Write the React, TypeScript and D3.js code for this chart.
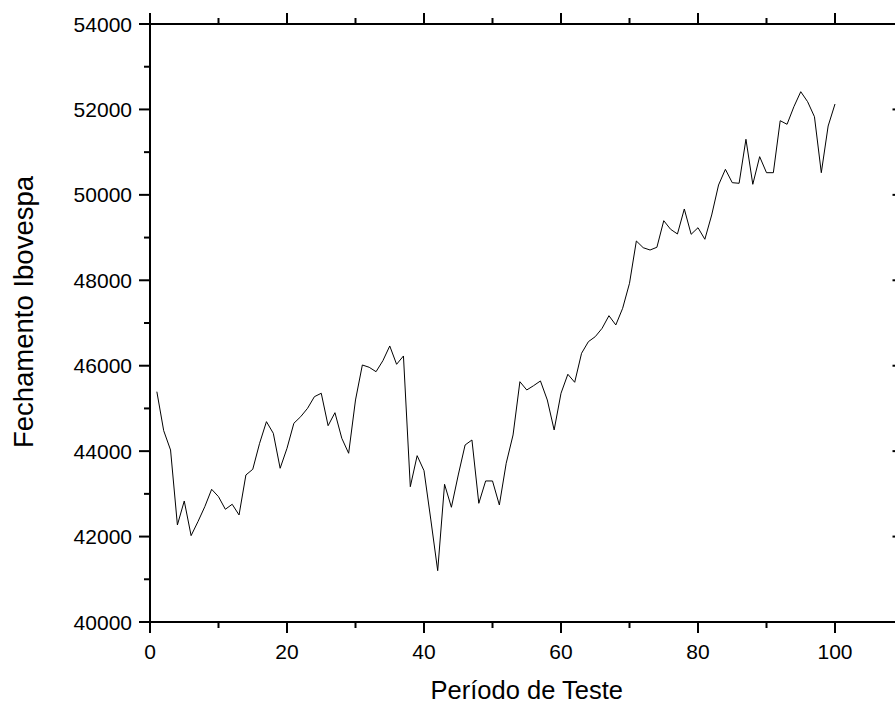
import React from "react";
import * as d3 from "d3";

const periods: number[] = d3.range(1, 101);
const closes: number[] = [
  45392, 44479, 44027, 42272, 42833, 42022, 42349, 42700, 43107, 42934,
  42639, 42756, 42506, 43442, 43575, 44184, 44690, 44418, 43599, 44067,
  44652, 44807, 45003, 45275, 45355, 44596, 44900, 44301, 43950, 45198,
  46017, 45963, 45860, 46118, 46462, 46033, 46228, 43168, 43894, 43543,
  42389, 41202, 43224, 42686, 43442, 44144, 44261, 42779, 43302, 43302,
  42740, 43716, 44379, 45626, 45432, 45533, 45643, 45198, 44496, 45355,
  45800, 45612, 46291, 46563, 46680, 46876, 47171, 46954, 47344, 47930,
  48920, 48763, 48709, 48773, 49395, 49194, 49084, 49669, 49077, 49231,
  48960, 49529, 50231, 50598, 50285, 50271, 51301, 50247, 50894, 50519,
  50519, 51736, 51652, 52064, 52415, 52181, 51830, 50519, 51612, 52127,
];
const xMajorTicks: number[] = [0, 20, 40, 60, 80, 100];
const xMinorTicks: number[] = [10, 30, 50, 70, 90];
const yMajorTicks: number[] = [40000, 42000, 44000, 46000, 48000, 50000, 52000, 54000];
const yMinorTicks: number[] = [41000, 43000, 45000, 47000, 49000, 51000, 53000];
const xTitle = "Período de Teste";
const yTitle = "Fechamento Ibovespa";

const W = 895;
const H = 705;
const L = 150;
const R = 903.5;
const T = 24;
const B = 622;
const MAJ = 11;
const MIN = 6;
const FONT = "'Liberation Sans', Arial, sans-serif";

export default function App() {
  const x = d3.scaleLinear().domain([0, 110]).range([L, R]);
  const y = d3.scaleLinear().domain([40000, 54000]).range([B, T]);
  const line = d3
    .line<number>()
    .x((_, i) => x(periods[i]))
    .y((d) => y(d));

  return (
    <svg
      width={W}
      height={H}
      style={{ position: "absolute", left: 0, top: 0, background: "#fff" }}
      fontFamily={FONT}
    >
      <rect x={0} y={0} width={W} height={H} fill="#fff" />
      <path d={line(closes) || ""} fill="none" stroke="#000" strokeWidth={1} />
      <g stroke="#000" strokeWidth={2} fill="none">
        <line x1={L} y1={B} x2={R} y2={B} />
        <line x1={L} y1={T} x2={R} y2={T} />
        <line x1={L} y1={T - 1} x2={L} y2={B + 1} />
        <line x1={R} y1={T - 1} x2={R} y2={B + 1} />
        {xMajorTicks.map((t) => (
          <g key={"xM" + t}>
            <line x1={x(t)} x2={x(t)} y1={B} y2={B + MAJ} />
            <line x1={x(t)} x2={x(t)} y1={T} y2={T - MAJ} />
          </g>
        ))}
        {xMinorTicks.map((t) => (
          <g key={"xm" + t}>
            <line x1={x(t)} x2={x(t)} y1={B} y2={B + MIN} />
            <line x1={x(t)} x2={x(t)} y1={T} y2={T - MIN} />
          </g>
        ))}
        {yMajorTicks.map((t) => (
          <g key={"yM" + t}>
            <line x1={L} x2={L - MAJ} y1={y(t)} y2={y(t)} />
            <line x1={R} x2={R - MAJ} y1={y(t)} y2={y(t)} />
          </g>
        ))}
        {yMinorTicks.map((t) => (
          <g key={"ym" + t}>
            <line x1={L} x2={L - MIN} y1={y(t)} y2={y(t)} />
            <line x1={R} x2={R - MIN} y1={y(t)} y2={y(t)} />
          </g>
        ))}
      </g>
      {xMajorTicks.map((t) => (
        <text key={"xl" + t} x={x(t)} y={659} fontSize={21} textAnchor="middle" fill="#000">
          {t}
        </text>
      ))}
      {yMajorTicks.map((t) => (
        <text key={"yl" + t} x={132} y={y(t) + 7.5} fontSize={21} textAnchor="end" fill="#000">
          {t}
        </text>
      ))}
      <text x={(L + R) / 2} y={699} fontSize={25.5} textAnchor="middle" fill="#000">
        {xTitle}
      </text>
      <text
        transform={`translate(33,${312}) rotate(-90)`}
        fontSize={27.5}
        textAnchor="middle"
        fill="#000"
      >
        {yTitle}
      </text>
    </svg>
  );
}
